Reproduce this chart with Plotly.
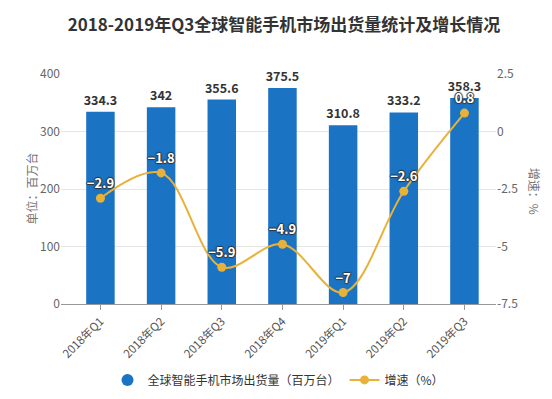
import plotly.graph_objects as go

categories = ["2018年Q1", "2018年Q2", "2018年Q3", "2018年Q4", "2019年Q1", "2019年Q2", "2019年Q3"]
shipments = [334.3, 342, 355.6, 375.5, 310.8, 333.2, 358.3]
growth = [-2.9, -1.8, -5.9, -4.9, -7, -2.6, 0.8]
left_ticks = [0, 100, 200, 300, 400]
right_ticks = [-7.5, -5, -2.5, 0, 2.5]
right_ticktext = ["-7.5", "-5", "-2.5", "0", "2.5"]

bar_color = "#1a73c3"
line_color = "#e8b23a"
font_cn = "Noto Sans CJK SC, Microsoft YaHei, sans-serif"

x_idx = list(range(len(categories)))

fig = go.Figure()
fig.add_trace(go.Bar(
    x=x_idx, y=shipments, width=0.47,
    marker=dict(color=bar_color, line=dict(width=0)),
    text=[f"{v:g}" for v in shipments], textposition="outside", constraintext="none",
    textfont=dict(family=font_cn, size=12.5, color="#333333", weight="bold"),
    cliponaxis=False, showlegend=False, hoverinfo="skip",
))
fig.add_trace(go.Scatter(
    x=[None], y=[None], mode="markers",
    marker=dict(color=bar_color, size=12, symbol="circle"),
    name="全球智能手机市场出货量（百万台）",
))
fig.add_trace(go.Scatter(
    x=x_idx, y=growth, yaxis="y2", mode="lines+markers+text",
    line=dict(color=line_color, width=2, shape="spline", smoothing=1),
    marker=dict(color=line_color, size=9),
    text=[f"{v:g}".replace("-", "−") for v in growth], textposition="top center",
    textfont=dict(family=font_cn, size=13, color="#ffffff", weight="bold",
                  shadow="-1px 0 1px #333, 1px 0 1px #333, 0 -1px 1px #333, 0 1px 1px #333"),
    cliponaxis=False, name="增速（%）",
))

fig.update_layout(
    width=552, height=399,
    margin=dict(l=53, r=64, t=66, b=92),
    paper_bgcolor="white", plot_bgcolor="white",
    font=dict(family=font_cn, size=12, color="#666666"),
    title=dict(text="<b>2018-2019年Q3全球智能手机市场出货量统计及增长情况</b>",
               x=0.5, xanchor="center", y=0.957, yanchor="middle",
               font=dict(size=17, color="#333333", family=font_cn)),
    xaxis=dict(range=[-0.65, 6.52], tickvals=x_idx, ticktext=categories, tickangle=-45,
               showgrid=False, showline=True, linecolor="#999999", linewidth=1,
               ticks="outside", ticklen=5, tickcolor="#999999",
               tickfont=dict(size=11.5, color="#555555"), zeroline=False),
    yaxis=dict(range=[0, 400], tickvals=left_ticks, showgrid=True, gridcolor="#e6e6e6",
               zeroline=False, showline=False, tickfont=dict(size=12, color="#666666")),
    yaxis2=dict(range=[-7.5, 2.5], tickvals=right_ticks, ticktext=right_ticktext,
                overlaying="y", side="right", showgrid=False, zeroline=False,
                showline=False, tickfont=dict(size=12, color="#666666")),
    legend=dict(orientation="h", x=0.5, xanchor="center", y=-0.33, yanchor="middle",
                font=dict(size=12, color="#333333"), itemwidth=30, traceorder="normal"),
    bargap=0.5,
)
fig.add_annotation(text="单位：百万台", xref="paper", yref="paper", x=-41/435, y=0.5,
                   textangle=-90, showarrow=False, font=dict(size=12, color="#777777"))
fig.add_annotation(text="增速：%", xref="paper", yref="paper", x=1 + 49/435, y=0.49,
                   textangle=90, showarrow=False, font=dict(size=12, color="#777777"))

fig.write_html("out.html")
